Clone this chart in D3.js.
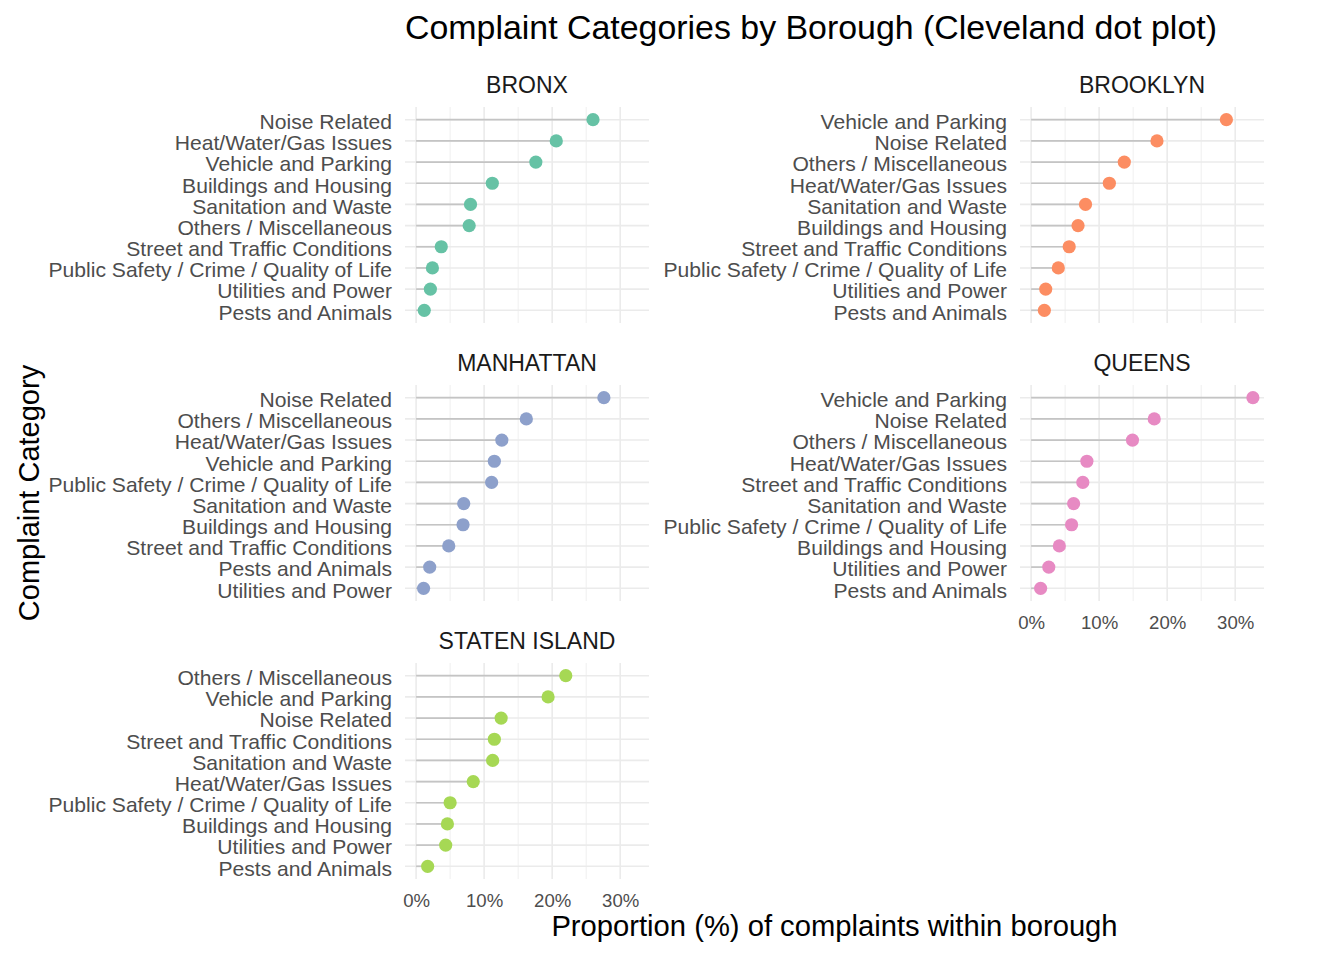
<!DOCTYPE html>
<html>
<head>
  <meta charset="utf-8">
  <title>Complaint Categories by Borough</title>
  <style>
    body { margin: 0; background: #fff; }
    svg text { font-family: "Liberation Sans", Arial, sans-serif; }
  </style>
</head>
<body>
  <div id='chart'></div>
  <script src="https://d3js.org/d3.v7.min.js"></script>
  <script>

    function translate(x, y) {
      return 'translate(' + x + ',' + y + ')';
    }

    // categories per borough, top to bottom, with the share (%)
    let boroughs = ['BRONX', 'BROOKLYN', 'MANHATTAN', 'QUEENS', 'STATEN ISLAND'];
    let colors = ['#66c2a5', '#fc8d62', '#8da0cb', '#e78ac3', '#a6d854'];

    let bronxCats = ['Noise Related', 'Heat/Water/Gas Issues', 'Vehicle and Parking', 'Buildings and Housing',
      'Sanitation and Waste', 'Others / Miscellaneous', 'Street and Traffic Conditions',
      'Public Safety / Crime / Quality of Life', 'Utilities and Power', 'Pests and Animals'];
    let bronxVals = [26.0, 20.6, 17.6, 11.2, 8.0, 7.8, 3.7, 2.4, 2.1, 1.2];

    let brooklynCats = ['Vehicle and Parking', 'Noise Related', 'Others / Miscellaneous', 'Heat/Water/Gas Issues',
      'Sanitation and Waste', 'Buildings and Housing', 'Street and Traffic Conditions',
      'Public Safety / Crime / Quality of Life', 'Utilities and Power', 'Pests and Animals'];
    let brooklynVals = [28.7, 18.5, 13.7, 11.5, 8.0, 6.9, 5.6, 4.0, 2.15, 1.95];

    let manhattanCats = ['Noise Related', 'Others / Miscellaneous', 'Heat/Water/Gas Issues', 'Vehicle and Parking',
      'Public Safety / Crime / Quality of Life', 'Sanitation and Waste', 'Buildings and Housing',
      'Street and Traffic Conditions', 'Pests and Animals', 'Utilities and Power'];
    let manhattanVals = [27.6, 16.2, 12.6, 11.5, 11.1, 7.0, 6.9, 4.8, 2.0, 1.1];

    let queensCats = ['Vehicle and Parking', 'Noise Related', 'Others / Miscellaneous', 'Heat/Water/Gas Issues',
      'Street and Traffic Conditions', 'Sanitation and Waste', 'Public Safety / Crime / Quality of Life',
      'Buildings and Housing', 'Utilities and Power', 'Pests and Animals'];
    let queensVals = [32.6, 18.1, 14.9, 8.2, 7.6, 6.25, 5.95, 4.15, 2.6, 1.4];

    let statenCats = ['Others / Miscellaneous', 'Vehicle and Parking', 'Noise Related', 'Street and Traffic Conditions',
      'Sanitation and Waste', 'Heat/Water/Gas Issues', 'Public Safety / Crime / Quality of Life',
      'Buildings and Housing', 'Utilities and Power', 'Pests and Animals'];
    let statenVals = [22.0, 19.4, 12.5, 11.5, 11.25, 8.4, 5.0, 4.6, 4.35, 1.7];

    let xTicks = [0, 10, 20, 30];
    let xMinor = [5, 15, 25];

    let allCats = [bronxCats, brooklynCats, manhattanCats, queensCats, statenCats];
    let allVals = [bronxVals, brooklynVals, manhattanVals, queensVals, statenVals];

    let svgWidth = 1344;
    let svgHeight = 960;
    let panelW = 244;
    let panelH = 216;
    let colX = [405, 1020];
    let rowY = [107, 385, 663];

    let svg = d3.select('#chart')
      .append('svg')
      .attr('width', svgWidth)
      .attr('height', svgHeight);

    // shared x scale, ggplot-like 5% expansion
    let maxVal = d3.max(allVals, v => d3.max(v));
    let x = d3.scaleLinear()
      .domain([-0.05 * maxVal, 1.05 * maxVal])
      .range([0, panelW]);

    boroughs.forEach(function(b, i) {
      let cats = allCats[i];
      let vals = allVals[i];
      let data = cats.map((c, j) => ({cat: c, value: vals[j]}));
      let col = i % 2;
      let row = Math.floor(i / 2);

      let y = d3.scalePoint()
        .domain(cats)
        .range([0, panelH])
        .padding(0.6);

      let g = svg.append('g')
        .attr('transform', translate(colX[col], rowY[row]));

      // minor grid
      g.selectAll('.minor')
        .data(xMinor)
        .enter()
        .append('line')
        .attr('x1', d => x(d)).attr('x2', d => x(d))
        .attr('y1', 0).attr('y2', panelH)
        .attr('stroke', '#ebebeb')
        .attr('stroke-width', 0.8);

      // major grid
      g.selectAll('.vmajor')
        .data(xTicks)
        .enter()
        .append('line')
        .attr('x1', d => x(d)).attr('x2', d => x(d))
        .attr('y1', 0).attr('y2', panelH)
        .attr('stroke', '#ebebeb')
        .attr('stroke-width', 1.6);

      g.selectAll('.hmajor')
        .data(cats)
        .enter()
        .append('line')
        .attr('x1', 0).attr('x2', panelW)
        .attr('y1', d => y(d)).attr('y2', d => y(d))
        .attr('stroke', '#ebebeb')
        .attr('stroke-width', 1.6);

      // strip label
      g.append('text')
        .attr('x', panelW / 2)
        .attr('y', -14.3)
        .attr('text-anchor', 'middle')
        .attr('font-size', '23px')
        .attr('fill', '#1a1a1a')
        .text(b);

      // y axis labels
      let yAxis = d3.axisLeft(y).tickSize(0).tickPadding(13);
      let ya = g.append('g').call(yAxis);
      ya.select('.domain').remove();
      ya.selectAll('text')
        .attr('font-size', '21.1px')
        .attr('dy', '0.42em')
        .attr('font-family', '"Liberation Sans", Arial, sans-serif')
        .attr('fill', '#4d4d4d');

      // segments
      g.selectAll('.seg')
        .data(data)
        .enter()
        .append('line')
        .attr('x1', x(0))
        .attr('x2', d => x(d.value))
        .attr('y1', d => y(d.cat))
        .attr('y2', d => y(d.cat))
        .attr('stroke', '#c4c4c4')
        .attr('stroke-width', 1.7);

      // dots
      g.selectAll('circle')
        .data(data)
        .enter()
        .append('circle')
        .attr('cx', d => x(d.value))
        .attr('cy', d => y(d.cat))
        .attr('r', 6.6)
        .style('fill', colors[i]);

      // x axis only on the bottom panel of each column
      if (i >= 3) {
        let xAxis = d3.axisBottom(x)
          .tickValues(xTicks)
          .tickSize(0)
          .tickPadding(15)
          .tickFormat(d => d + '%');
        let xa = g.append('g')
          .attr('transform', translate(0, panelH))
          .call(xAxis);
        xa.select('.domain').remove();
        xa.selectAll('text')
          .attr('font-size', '18.6px')
          .attr('font-family', '"Liberation Sans", Arial, sans-serif')
          .attr('fill', '#4d4d4d');
      }
    });

    // title and axis titles
    svg.append('text')
      .attr('x', 405)
      .attr('y', 39)
      .attr('font-size', '33.9px')
      .attr('fill', '#000')
      .text('Complaint Categories by Borough (Cleveland dot plot)');

    svg.append('text')
      .attr('x', (colX[0] + colX[1] + panelW) / 2)
      .attr('y', 936)
      .attr('text-anchor', 'middle')
      .attr('font-size', '29.2px')
      .attr('fill', '#000')
      .text('Proportion (%) of complaints within borough');

    svg.append('text')
      .attr('transform', translate(39, (rowY[0] + rowY[2] + panelH) / 2) + ' rotate(-90)')
      .attr('text-anchor', 'middle')
      .attr('font-size', '29px')
      .attr('fill', '#000')
      .text('Complaint Category');

  </script>
</body>
</html>
